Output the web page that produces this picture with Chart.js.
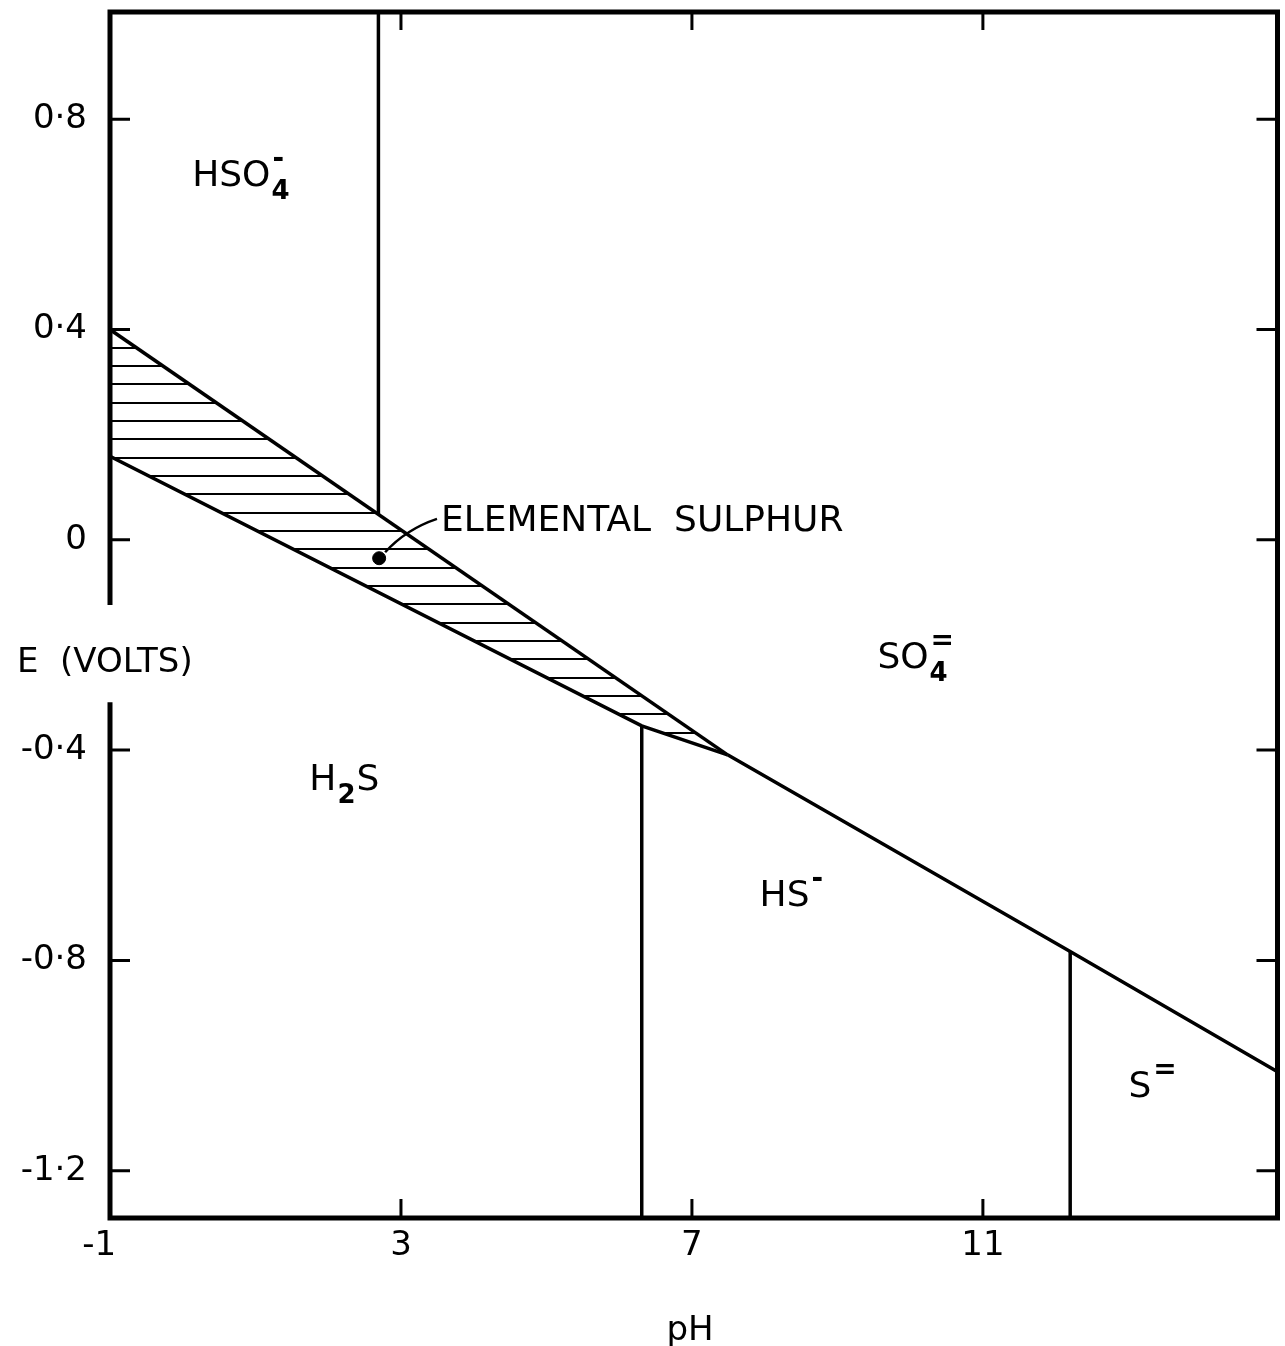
<!DOCTYPE html>
<html lang="en">
<head>
<meta charset="UTF-8" />
<title>E - pH diagram, sulphur</title>
<script src="https://cdn.jsdelivr.net/npm/chart.js"></script>
<style>
  html, body { margin: 0; padding: 0; background: #fff; overflow: hidden; }
  #wrap { position: relative; width: 1285px; height: 1346px; }
</style>
</head>
<body>
<div id="wrap"><canvas id="diagrama"></canvas></div>
<script>
// tick labels
const xTicks = [-1, 3, 7, 11];
const yTicks = [0.8, 0.4, 0, -0.4, -0.8, -1.2];

// boundaries, pH against E (volts)
const sulphurTopPH = [-1, 7.49];
const sulphurTopE = [0.40, -0.409];
const sulphurBottomPH = [-1, 6.31, 7.49];
const sulphurBottomE = [0.159, -0.354, -0.409];
const sulphatePH = [7.49, 12.2, 15.05];
const sulphateE = [-0.409, -0.783, -1.012];
const hso4PH = [2.69, 2.69];
const hso4E = [1.004, 0.048];
const h2sPH = [6.31, 6.31];
const h2sE = [-0.354, -1.29];
const hsPH = [12.2, 12.2];
const hsE = [-0.783, -1.29];
const dotPH = [2.70];
const dotE = [-0.035];

// where the left axis is broken for its label
const gapTop = -0.124;
const gapBottom = -0.309;

const FONT = '"DejaVu Sans", sans-serif';

// region names: anchor = left end of baseline, in pH / volts
const regionLabels = [
  { x: 0.13, y: 0.673, parts: [{ t: 'HSO', sub: '4', sup: '-' }] },
  { x: 9.55, y: -0.244, parts: [{ t: 'SO', sub: '4', sup: '=' }] },
  { x: 1.74, y: -0.476, parts: [{ t: 'H', sub: '2' }, { t: 'S' }] },
  { x: 7.93, y: -0.697, parts: [{ t: 'HS', sup: '-' }] },
  { x: 13.0, y: -1.060, parts: [{ t: 'S', sup: '=' }] }
];

const pts = (xs, ys) => xs.map((v, i) => ({ x: v, y: ys[i] }));

function drawFormula(ctx, parts, px, py) {
  let cx = px;
  parts.forEach(p => {
    ctx.font = '36px ' + FONT;
    ctx.fillText(p.t, cx, py);
    cx += ctx.measureText(p.t).width;
    let w = 0;
    if (p.sub) {
      ctx.font = 'bold 26px ' + FONT;
      ctx.fillText(p.sub, cx + 1, py + 13);
      w = ctx.measureText(p.sub).width;
    }
    if (p.sup) {
      ctx.font = 'bold 28px ' + FONT;
      ctx.fillText(p.sup, cx + 2, py - 19);
      w = Math.max(w, ctx.measureText(p.sup).width);
    }
    cx += w + 2;
  });
}

const marcos = {
  id: 'marcos',
  afterDraw(chart) {
    const { ctx, chartArea: a, scales: { x, y } } = chart;
    ctx.save();
    ctx.strokeStyle = '#000';
    ctx.fillStyle = '#000';

    // frame
    ctx.lineWidth = 5;
    ctx.lineJoin = 'miter';
    ctx.beginPath();
    ctx.moveTo(a.left, y.getPixelForValue(gapTop));
    ctx.lineTo(a.left, a.top);
    ctx.lineTo(a.right, a.top);
    ctx.lineTo(a.right, a.bottom);
    ctx.lineTo(a.left, a.bottom);
    ctx.lineTo(a.left, y.getPixelForValue(gapBottom));
    ctx.stroke();

    // inward ticks
    ctx.lineWidth = 3;
    ctx.beginPath();
    x.ticks.forEach(t => {
      if (t.value <= x.min) return;
      const px = x.getPixelForValue(t.value);
      ctx.moveTo(px, a.bottom); ctx.lineTo(px, a.bottom - 19);
      ctx.moveTo(px, a.top); ctx.lineTo(px, a.top + 18);
    });
    y.ticks.forEach(t => {
      const py = y.getPixelForValue(t.value);
      ctx.moveTo(a.left, py); ctx.lineTo(a.left + 20, py);
      ctx.moveTo(a.right, py); ctx.lineTo(a.right - 21, py);
    });
    ctx.stroke();

    // axis titles
    ctx.textBaseline = 'alphabetic';
    ctx.textAlign = 'left';
    ctx.font = '34px ' + FONT;
    ctx.fillText('E  (VOLTS)', 17, 672);
    ctx.textAlign = 'center';
    ctx.fillText('pH', 690, 1340);

    // region names
    ctx.textAlign = 'left';
    regionLabels.forEach(l => {
      drawFormula(ctx, l.parts, x.getPixelForValue(l.x), y.getPixelForValue(l.y));
    });

    // elemental sulphur note with leader
    const dx = x.getPixelForValue(dotPH[0]);
    const dy = y.getPixelForValue(dotE[0]);
    const tx = x.getPixelForValue(3.55);
    const ty = y.getPixelForValue(0.017);
    ctx.lineWidth = 2.5;
    ctx.beginPath();
    ctx.moveTo(dx + 6, dy - 6);
    ctx.quadraticCurveTo(dx + 27, dy - 29, tx - 4, ty - 12);
    ctx.stroke();
    ctx.font = '36px ' + FONT;
    ctx.fillText('ELEMENTAL  SULPHUR', tx, ty);
    ctx.restore();
  }
};

const canvas = document.getElementById('diagrama');
const ctx = canvas.getContext('2d');

// horizontal hatching for the sulphur field
const hatch = document.createElement('canvas');
hatch.width = 10;
hatch.height = 55;
const hc = hatch.getContext('2d');
hc.fillStyle = '#000';
[17, 35, 53].forEach(r => hc.fillRect(0, r, 10, 2));
const rayado = ctx.createPattern(hatch, 'repeat');

const linea = { borderColor: '#000', borderWidth: 3.5, pointRadius: 0, tension: 0, fill: false };

new Chart(ctx, {
  type: 'line',
  data: {
    datasets: [
      { ...linea, data: pts(sulphurTopPH, sulphurTopE), fill: '+1', backgroundColor: rayado },
      { ...linea, data: pts(sulphurBottomPH, sulphurBottomE) },
      { ...linea, data: pts(sulphatePH, sulphateE) },
      { ...linea, data: pts(hso4PH, hso4E) },
      { ...linea, data: pts(h2sPH, h2sE) },
      { ...linea, data: pts(hsPH, hsE) },
      { data: pts(dotPH, dotE), showLine: false, pointRadius: 6.5,
        pointBackgroundColor: '#000', pointBorderColor: '#000' }
    ]
  },
  options: {
    responsive: true,
    maintainAspectRatio: false,
    animation: false,
    events: [],
    layout: { padding: { top: 12, right: 5, left: 0, bottom: 0 } },
    plugins: { legend: { display: false }, tooltip: { enabled: false } },
    scales: {
      x: {
        type: 'linear',
        min: -1,
        max: 15.05,
        grid: { display: false, drawTicks: false },
        border: { display: false },
        afterBuildTicks: s => { s.ticks = xTicks.map(v => ({ value: v })); },
        afterFit: s => { s.height = 128; s.paddingLeft = 0; s.paddingRight = 0; },
        ticks: {
          padding: 8,
          color: '#000',
          autoSkip: false,
          maxRotation: 0,
          font: { family: 'DejaVu Sans', size: 34 },
          callback: v => v === -1 ? '-1\u2007' : String(v)
        }
      },
      y: {
        type: 'linear',
        min: -1.29,
        max: 1.004,
        grid: { display: false, drawTicks: false },
        border: { display: false },
        afterBuildTicks: s => { s.ticks = [...yTicks].sort((a, b) => a - b).map(v => ({ value: v })); },
        afterFit: s => { s.width = 110; s.paddingTop = 0; s.paddingBottom = 0; },
        ticks: {
          padding: 23,
          color: '#000',
          autoSkip: false,
          font: { family: 'DejaVu Sans', size: 34 },
          callback: v => String(v).replace('.', '·')
        }
      }
    }
  },
  plugins: [marcos]
});
</script>
</body>
</html>
